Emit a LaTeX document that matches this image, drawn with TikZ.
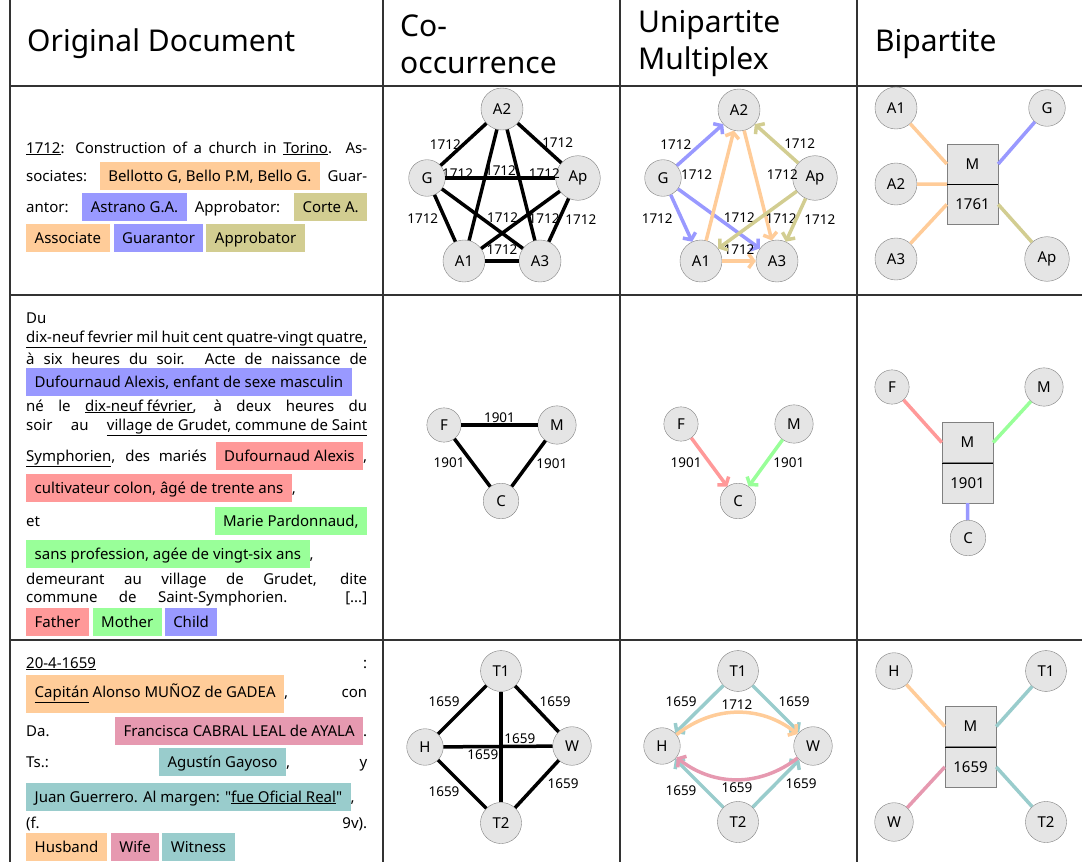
\documentclass[tikz,border=0pt]{standalone}
\usepackage{fontspec}
\setmainfont{Noto Sans}[Ligatures=TeXOff]
\usetikzlibrary{positioning,arrows.meta}
\definecolor{assoc}{RGB}{255,204,153}
\definecolor{guar}{RGB}{153,153,255}
\definecolor{appr}{RGB}{210,205,145}
\definecolor{fath}{RGB}{255,153,153}
\definecolor{moth}{RGB}{153,255,153}
\definecolor{chld}{RGB}{153,153,255}
\definecolor{husb}{RGB}{255,204,153}
\definecolor{wife}{RGB}{230,153,176}
\definecolor{witn}{RGB}{153,204,204}
\setlength{\fboxsep}{0pt}
\newcommand{\hlbox}[2]{\colorbox{#1}{\rule[-9pt]{0pt}{28pt}\hspace{8.5pt}#2\hspace{8.5pt}}}
\newcommand{\jline}[1]{\makebox[341pt][s]{#1}}
\newcommand{\bodyfont}{\fontsize{15}{17}\selectfont}

\begin{document}
\begin{tikzpicture}[x=1pt, y=-1pt,
	v/.style={draw=gray, fill=gray!20, circle, inner sep=7.5pt, font=\fontsize{15}{15}\selectfont},
	rec/.style={draw=gray, fill=gray!20, minimum width=51pt, minimum height=40pt, inner sep=0pt, font=\fontsize{15}{15}\selectfont},
	lab/.style={text=black, inner sep=1pt, font=\fontsize{13.5}{13.5}\selectfont},
	co/.style={line width=3.5pt},
	mx/.style={line width=3.5pt, -{Straight Barb[length=5pt, width=14pt]}},
	bp/.style={line width=3.5pt},
	txt/.style={anchor=base west, inner sep=0pt, font=\bodyfont},
	hdr/.style={anchor=west, inner sep=0pt, align=left, font=\fontsize{30}{37}\selectfont},
	tabline/.style={line width=1.2pt, black!80}]
	\useasboundingbox (0,0) rectangle (1082,862);
	\draw[tabline] (10,0) -- (10,862);
	\draw[tabline] (383,0) -- (383,862);
	\draw[tabline] (620,0) -- (620,862);
	\draw[tabline] (857,0) -- (857,862);
	\draw[tabline] (10,86) -- (1082,86);
	\draw[tabline] (10,295) -- (1082,295);
	\draw[tabline] (10,640) -- (1082,640);

	\node[hdr] (h1) at (27,44) {Original Document};
	\node[hdr] (h2) at (400,44) {Co-\\occurrence};
	\node[hdr] (h3) at (638,44) {Unipartite\\Multiplex};
	\node[hdr] (h4) at (875,44) {Bipartite};

	\node[txt] (d1a) at (26,153) {\jline{\underline{1712}: Construction of a church in \underline{Torino}. As-}};
	\node[txt] (d1b) at (26,181) {\jline{sociates: \hlbox{assoc}{Bellotto G, Bello P.M, Bello G.} Guar-}};
	\node[txt] (d1c) at (26,212) {\jline{antor: \hlbox{guar}{Astrano G.A.} Approbator: \hlbox{appr}{Corte A.}}};
	\node[txt] (d1d) at (26,243) {\hlbox{assoc}{Associate}\hspace{4pt}\hlbox{guar}{Guarantor}\hspace{3pt}\hlbox{appr}{Approbator}};

	\node[txt] (d2a) at (26,323) {Du};
	\node[txt] (d2b) at (26,342) {\underline{\jline{dix-neuf fevrier mil huit cent quatre-vingt quatre,}}};
	\node[txt] (d2c) at (26,364) {\jline{à six heures du soir. Acte de naissance de}};
	\node[txt] (d2d) at (26,387) {\hlbox{chld}{Dufournaud Alexis, enfant de sexe masculin}};
	\node[txt] (d2e) at (26,411) {\jline{né le \underline{dix-neuf février}, à deux heures du}};
	\node[txt] (d2f) at (26,430) {\jline{soir au \underline{village de Grudet, commune de Saint}}};
	\node[txt] (d2g) at (26,461) {\jline{\underline{Symphorien}, des mariés \hlbox{fath}{Dufournaud Alexis},}};
	\node[txt] (d2h) at (26,493) {\hlbox{fath}{cultivateur colon, âgé de trente ans},};
	\node[txt] (d2i) at (26,526) {\jline{et \hlbox{moth}{Marie Pardonnaud,}}};
	\node[txt] (d2j) at (26,559) {\hlbox{moth}{sans profession, agée de vingt-six ans},};
	\node[txt] (d2k) at (26,584) {\jline{demeurant au village de Grudet, dite}};
	\node[txt] (d2l) at (26,602) {\jline{commune de Saint-Symphorien. [...]}};
	\node[txt] (d2m) at (26,627) {\hlbox{fath}{Father}\hspace{4pt}\hlbox{moth}{Mother}\hspace{3pt}\hlbox{chld}{Child}};

	\node[txt] (d3a) at (26,668) {\jline{\underline{20-4-1659} :}};
	\node[txt] (d3b) at (26,697) {\jline{\colorbox{husb}{\rule[-16pt]{0pt}{38pt}\hspace{8.5pt}\underline{Capitán} Alonso MUÑOZ de GADEA\hspace{8.5pt}}, con}};
	\node[txt] (d3c) at (26,736) {\jline{Da. \hlbox{wife}{Francisca CABRAL LEAL de AYALA}.}};
	\node[txt] (d3d) at (26,767) {\jline{Ts.: \hlbox{witn}{Agustín Gayoso}, y}};
	\node[txt] (d3e) at (26,802) {\hlbox{witn}{Juan Guerrero. Al margen: "\underline{fue Oficial Real}"},};
	\node[txt] (d3f) at (26,828) {\jline{(f. 9v).}};
	\node[txt] (d3g) at (26,852) {\hlbox{husb}{Husband}\hspace{4pt}\hlbox{wife}{Wife}\hspace{3pt}\hlbox{witn}{Witness}};

	\node[v] (ca2) at (502,109) {A2};
	\node[v] (cg) at (427,178) {G};
	\node[v] (cap) at (578,178) {Ap};
	\node[v] (ca1) at (464,261) {A1};
	\node[v] (ca3) at (540,261) {A3};
	\draw[co] (cg) -- (ca2) node[lab, midway, left] {1712};
	\draw[co] (ca2) -- (cap) node[lab, midway, right] {1712};
	\draw[co] (cg) -- (cap) node[lab, midway, above] {1712};
	\draw[co] (ca2) -- (ca1) node[lab, pos=.4, left=10pt] {1712};
	\draw[co] (ca2) -- (ca3) node[lab, pos=.4, right=8pt] {1712};
	\draw[co] (cg) -- (ca1) node[lab, midway, left=4pt] {1712};
	\draw[co] (cap) -- (ca3) node[lab, midway, right=4pt] {1712};
	\draw[co] (ca1) -- (ca3) node[lab, midway, above=4pt] {1712};
	\draw[co] (cg) -- (ca3) node[lab, pos=.75, above=8pt] {1712};
	\draw[co] (ca1) -- (cap) node[lab, pos=.8, below=8pt] {1712};

	\node[v] (ma2) at (739,110) {A2};
	\node[v] (mg) at (663,178) {G};
	\node[v] (map) at (815,178) {Ap};
	\node[v] (ma1) at (701,261) {A1};
	\node[v] (ma3) at (777,261) {A3};
	\draw[mx, guar] (mg) -- (ma2) node[lab, midway, left=6pt] {1712};
	\draw[mx, guar] (mg) -- (ma1) node[lab, midway, left=6pt] {1712};
	\draw[mx, guar] (mg) -- (ma3) node[lab, pos=.75, above=8pt] {1712};
	\draw[mx, assoc] (ma1) -- (ma2) node[lab, pos=.6, left=8pt] {1712};
	\draw[mx, assoc] (ma2) -- (ma3) node[lab, pos=.4, right=9pt] {1712};
	\draw[mx, assoc] (ma1) -- (ma3) node[lab, midway, above=4pt] {1712};
	\draw[mx, appr] (map) -- (ma2) node[lab, midway, right=5pt] {1712};
	\draw[mx, appr] (map) -- (ma1) node[lab, pos=.2, below=8pt] {1712};
	\draw[mx, appr] (map) -- (ma3) node[lab, midway, right=6pt] {1712};

	\node[v] (ba1) at (896,108) {A1};
	\node[v] (bg) at (1047,108) {G};
	\node[v] (ba2) at (896,184) {A2};
	\node[v] (ba3) at (896,259) {A3};
	\node[v] (bap) at (1047,259) {Ap};
	\node[rec] (ev1) at (972.5,164) {M};
	\node[rec, below=0pt of ev1] (ev1y) {1761};
	\draw (ev1.south west) -- (ev1.south east);
	\draw[bp, assoc] (ba1) -- (ev1.west);
	\draw[bp, assoc] (ba2) -- (ev1.south west);
	\draw[bp, assoc] (ba3) -- (ev1y.west);
	\draw[bp, guar] (bg) -- (ev1.east);
	\draw[bp, appr] (bap) -- (ev1y.east);

	\node[v] (cf) at (444,425) {F};
	\node[v] (cmo) at (557,425) {M};
	\node[v] (cc) at (501,501) {C};
	\draw[co] (cf) -- (cmo) node[lab, midway, above] {1901};
	\draw[co] (cf) -- (cc) node[lab, midway, left=5pt] {1901};
	\draw[co] (cmo) -- (cc) node[lab, midway, right=5pt] {1901};

	\node[v] (mf) at (681,424) {F};
	\node[v] (mmo) at (794,424) {M};
	\node[v] (mc) at (738,501) {C};
	\draw[mx, fath] (mf) -- (mc) node[lab, midway, left=5pt] {1901};
	\draw[mx, moth] (mmo) -- (mc) node[lab, midway, right=5pt] {1901};

	\node[v] (bf) at (892,387) {F};
	\node[v] (bmo) at (1044,387) {M};
	\node[rec] (ev2) at (967.5,442.5) {M};
	\node[rec, below=0pt of ev2] (ev2y) {1901};
	\node[v] (bc) at (968,538) {C};
	\draw (ev2.south west) -- (ev2.south east);
	\draw[bp, fath] (bf) -- (ev2.west);
	\draw[bp, moth] (bmo) -- (ev2.east);
	\draw[bp, chld] (bc) -- (ev2y.south);

	\node[v] (ct1) at (501,671) {T1};
	\node[v] (ch) at (425,747) {H};
	\node[v] (cw) at (572,746) {W};
	\node[v] (ct2) at (501,823) {T2};
	\draw[co] (ct1) -- (ch) node[lab, midway, above left] {1659};
	\draw[co] (ct1) -- (cw) node[lab, midway, above right] {1659};
	\draw[co] (ch) -- (cw) node[lab, pos=.7, above] {1659};
	\draw[co] (ct1) -- (ct2) node[lab, midway, below left] {1659};
	\draw[co] (ch) -- (ct2) node[lab, midway, below left] {1659};
	\draw[co] (cw) -- (ct2) node[lab, midway, right=8pt] {1659};

	\node[v] (mt1) at (738,671) {T1};
	\node[v] (mh) at (662,746) {H};
	\node[v] (mw) at (813,746) {W};
	\node[v] (mt2) at (738,822) {T2};
	\draw[mx, witn] (mt1) -- (mh) node[lab, midway, above left] {1659};
	\draw[mx, witn] (mt1) -- (mw) node[lab, midway, above right] {1659};
	\draw[mx, witn] (mt2) -- (mh) node[lab, midway, below left] {1659};
	\draw[mx, witn] (mt2) -- (mw) node[lab, midway, right=7pt] {1659};
	\draw[mx, husb] (mh) to[bend left=38] node[lab, above] {1712} (mw);
	\draw[mx, wife] (mw) to[bend left=38] node[lab, below] {1659} (mh);

	\node[v] (bh) at (894,671) {H};
	\node[v] (bt1) at (1046,671) {T1};
	\node[v] (bw) at (894,822) {W};
	\node[v] (bt2) at (1046,822) {T2};
	\node[rec] (ev3) at (970.5,726.5) {M};
	\node[rec, below=0pt of ev3] (ev3y) {1659};
	\draw (ev3.south west) -- (ev3.south east);
	\draw[bp, husb] (bh) -- (ev3.west);
	\draw[bp, witn] (bt1) -- (ev3.east);
	\draw[bp, wife] (bw) -- (ev3y.west);
	\draw[bp, witn] (bt2) -- (ev3y.east);
\end{tikzpicture}
\end{document}
